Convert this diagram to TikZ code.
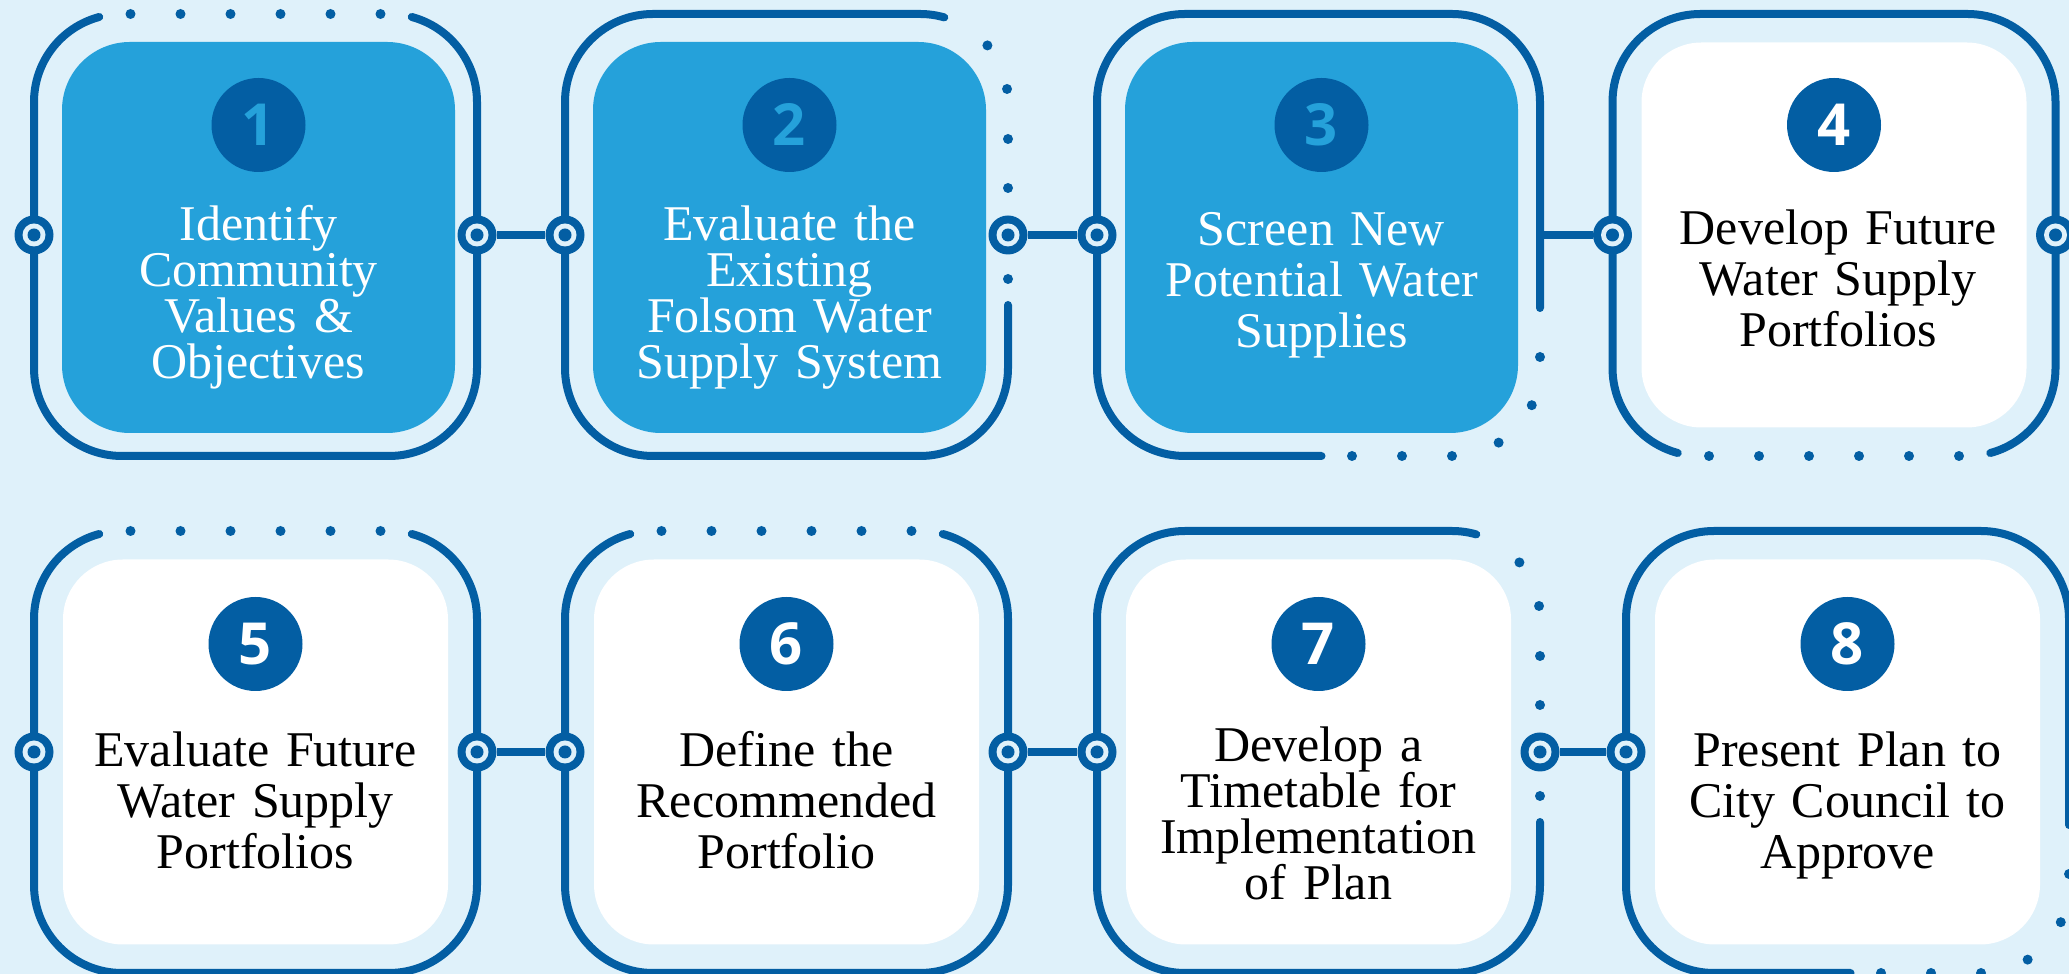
\documentclass[tikz,border=0pt]{standalone}
\usepackage{fontspec}
\setmainfont{Liberation Serif}
\newfontfamily\numfont{Open Sans}
\usetikzlibrary{calc}

\definecolor{bgblue}{HTML}{DFF1FA}
\definecolor{dkblue}{HTML}{035EA3}
\definecolor{midblue}{HTML}{25A1DA}

\tikzset{
  frameline/.style={draw=dkblue, line width=8pt, line cap=round},
  link/.style={draw=dkblue, line width=8pt},
  joint/.style={circle, fill=dkblue, minimum size=39pt, inner sep=0pt,
    path picture={\fill[bgblue] (path picture bounding box.center) circle (11.5pt);
                  \fill[dkblue] (path picture bounding box.center) circle (6.5pt);}},
  bluebox/.style={rectangle, rounded corners=68pt, fill=midblue, minimum width=393pt, minimum height=391pt},
  whitebox/.style={rectangle, rounded corners=60pt, fill=white, minimum width=385pt, minimum height=385pt},
  numdisc/.style={circle, fill=dkblue, minimum size=94pt, inner sep=0pt, font=\numfont\bfseries\fontsize{58}{58}\selectfont},
  steptext/.style={text width=400pt, align=center, inner sep=0pt, anchor=base},
  fourline/.style={steptext, font=\fontsize{50}{46}\selectfont},
  threeline/.style={steptext, font=\fontsize{50}{51}\selectfont}
}

% frame with six dots in the top gap
\def\topgapframe(#1){
  \begin{scope}[shift={(#1)}]
    \draw[frameline] ({-\fw+\fr+\fr*cos(105)},{\fh-\fr+\fr*sin(105)}) arc (105:180:\fr) -- (-\fw,-\fh+\fr) arc (180:270:\fr) -- (\fw-\fr,-\fh) arc (270:360:\fr) -- (\fw,\fh-\fr) arc (0:75:\fr);
    \foreach \x in {-125,-75,...,125} \fill[dkblue] (\x,\fh) circle (\dotr);
  \end{scope}}
% frame with six dots in the bottom gap
\def\botgapframe(#1){
  \begin{scope}[shift={(#1)}]
    \draw[frameline] ({\fw-\fr+\fr*cos(285)},{-\fh+\fr+\fr*sin(285)}) arc (285:360:\fr) -- (\fw,\fh-\fr) arc (0:90:\fr) -- (-\fw+\fr,\fh) arc (90:180:\fr) -- (-\fw,-\fh+\fr) arc (180:255:\fr);
    \foreach \x in {-125,-75,...,125} \fill[dkblue] (\x,-\fh) circle (\dotr);
  \end{scope}}
% frame dotted round the upper right corner
\def\risegapframe(#1){
  \begin{scope}[shift={(#1)}]
    \draw[frameline] (\fw,-70) -- (\fw,-\fh+\fr) arc (0:-90:\fr) -- (-\fw+\fr,-\fh) arc (270:180:\fr) -- (-\fw,\fh-\fr) arc (180:90:\fr) -- (\fw-\fr,\fh) arc (90:74:\fr);
    \foreach \ang in {40,8.5} \fill[dkblue] ({\fw-\fr+\fr*cos(\ang)},{\fh-\fr+\fr*sin(\ang)}) circle (\dotr);
    \foreach \y in {96,47,-44} \fill[dkblue] (\fw,\y) circle (\dotr);
  \end{scope}}
% frame dotted round the lower right corner
\def\lowgapframe(#1){
  \begin{scope}[shift={(#1)}]
    \draw[frameline] (3,-\fh) -- (-\fw+\fr,-\fh) arc (270:180:\fr) -- (-\fw,\fh-\fr) arc (180:90:\fr) -- (\fw-\fr,\fh) arc (90:0:\fr) -- (\fw,-73);
    \foreach \ang in {-25,-58} \fill[dkblue] ({\fw-\fr+\fr*cos(\ang)},{-\fh+\fr+\fr*sin(\ang)}) circle (\dotr);
    \fill[dkblue] (\fw,-122) circle (\dotr);
    \foreach \x in {133.5,83.5,33.5} \fill[dkblue] (\x,-\fh) circle (\dotr);
  \end{scope}}

\begin{document}
\begin{tikzpicture}[x=1pt,y=1pt]
  %%%%% START %%%%%
  \def\fw{221.5}
  \def\fh{221}
  \def\fr{88}
  \def\dotr{5}

  \useasboundingbox (0,0) rectangle (2069,974);
  \fill[bgblue] (0,0) rectangle (2069,974);

  % frame centres
  \coordinate (f1) at (255.5,739);
  \coordinate (f2) at (786.5,739);
  \coordinate (f3) at (1318.5,739);
  \coordinate (f4) at (1834,739);
  \coordinate (f5) at (255.5,222);
  \coordinate (f6) at (786.5,222);
  \coordinate (f7) at (1318.5,222);
  \coordinate (f8) at (1847.5,222);

  \topgapframe(f1)
  \risegapframe(f2)
  \lowgapframe(f3)
  \botgapframe(f4)
  \topgapframe(f5)
  \topgapframe(f6)
  \risegapframe(f7)
  \lowgapframe(f8)

  % joints on the frames
  \node[joint] (j1l) at ($(f1)+(-\fw,0)$) {};
  \node[joint] (j1r) at ($(f1)+(\fw,0)$) {};
  \node[joint] (j2l) at ($(f2)+(-\fw,0)$) {};
  \node[joint] (j2r) at ($(f2)+(\fw,0)$) {};
  \node[joint] (j3l) at ($(f3)+(-\fw,0)$) {};
  \coordinate (j3r) at ($(f3)+(\fw,0)$);
  \node[joint] (j4l) at ($(f4)+(-\fw,0)$) {};
  \node[joint] (j4r) at ($(f4)+(\fw,0)$) {};
  \node[joint] (j5l) at ($(f5)+(-\fw,0)$) {};
  \node[joint] (j5r) at ($(f5)+(\fw,0)$) {};
  \node[joint] (j6l) at ($(f6)+(-\fw,0)$) {};
  \node[joint] (j6r) at ($(f6)+(\fw,0)$) {};
  \node[joint] (j7l) at ($(f7)+(-\fw,0)$) {};
  \node[joint] (j7r) at ($(f7)+(\fw,0)$) {};
  \node[joint] (j8l) at ($(f8)+(-\fw,0)$) {};

  \draw[link] (j1r) -- (j2l);
  \draw[link] (j2r) -- (j3l);
  \draw[link] (j3r) -- (j4l);
  \draw[link] (j5r) -- (j6l);
  \draw[link] (j6r) -- (j7l);
  \draw[link] (j7r) -- (j8l);

  % step cards
  \node[bluebox] (box1) at ($(f1)+(3,-2.5)$) {};
  \node[bluebox] (box2) at ($(f2)+(3,-2.5)$) {};
  \node[bluebox] (box3) at ($(f3)+(3,-2.5)$) {};
  \node[whitebox] (box4) at (f4) {};
  \node[whitebox] (box5) at (f5) {};
  \node[whitebox] (box6) at (f6) {};
  \node[whitebox] (box7) at (f7) {};
  \node[whitebox] (box8) at (f8) {};

  \node[numdisc, text=midblue] (num1) at ($(f1)+(3,110)$) {1};
  \node[numdisc, text=midblue] (num2) at ($(f2)+(3,110)$) {2};
  \node[numdisc, text=midblue] (num3) at ($(f3)+(3,110)$) {3};
  \node[numdisc, text=white] (num4) at ($(f4)+(0,110)$) {4};
  \node[numdisc, text=white] (num5) at ($(f5)+(0,108)$) {5};
  \node[numdisc, text=white] (num6) at ($(f6)+(0,108)$) {6};
  \node[numdisc, text=white] (num7) at ($(f7)+(0,108)$) {7};
  \node[numdisc, text=white] (num8) at ($(f8)+(0,108)$) {8};

  \node[fourline, text=white] (txt1) at ($(f1)+(3,-6)$) {Identify\\Community\\Values \&\\Objectives};
  \node[fourline, text=white] (txt2) at ($(f2)+(3,-6)$) {Evaluate the\\Existing\\Folsom Water\\Supply System};
  \node[threeline, text=white] (txt3) at ($(f3)+(3,-11)$) {Screen New\\Potential Water\\Supplies};
  \node[threeline] (txt4) at ($(f4)+(4,-10)$) {Develop Future\\Water Supply\\Portfolios};
  \node[threeline] (txt5) at ($(f5)+(0,-15)$) {Evaluate Future\\Water Supply\\Portfolios};
  \node[threeline] (txt6) at ($(f6)+(0,-15)$) {Define the\\Recommended\\Portfolio};
  \node[fourline] (txt7) at ($(f7)+(0,-10)$) {Develop a\\Timetable for\\Implementation\\of Plan};
  \node[threeline] (txt8) at ($(f8)+(0,-15)$) {Present Plan to\\City Council to\\Approve};
  %%%%% END %%%%%
\end{tikzpicture}
\end{document}
